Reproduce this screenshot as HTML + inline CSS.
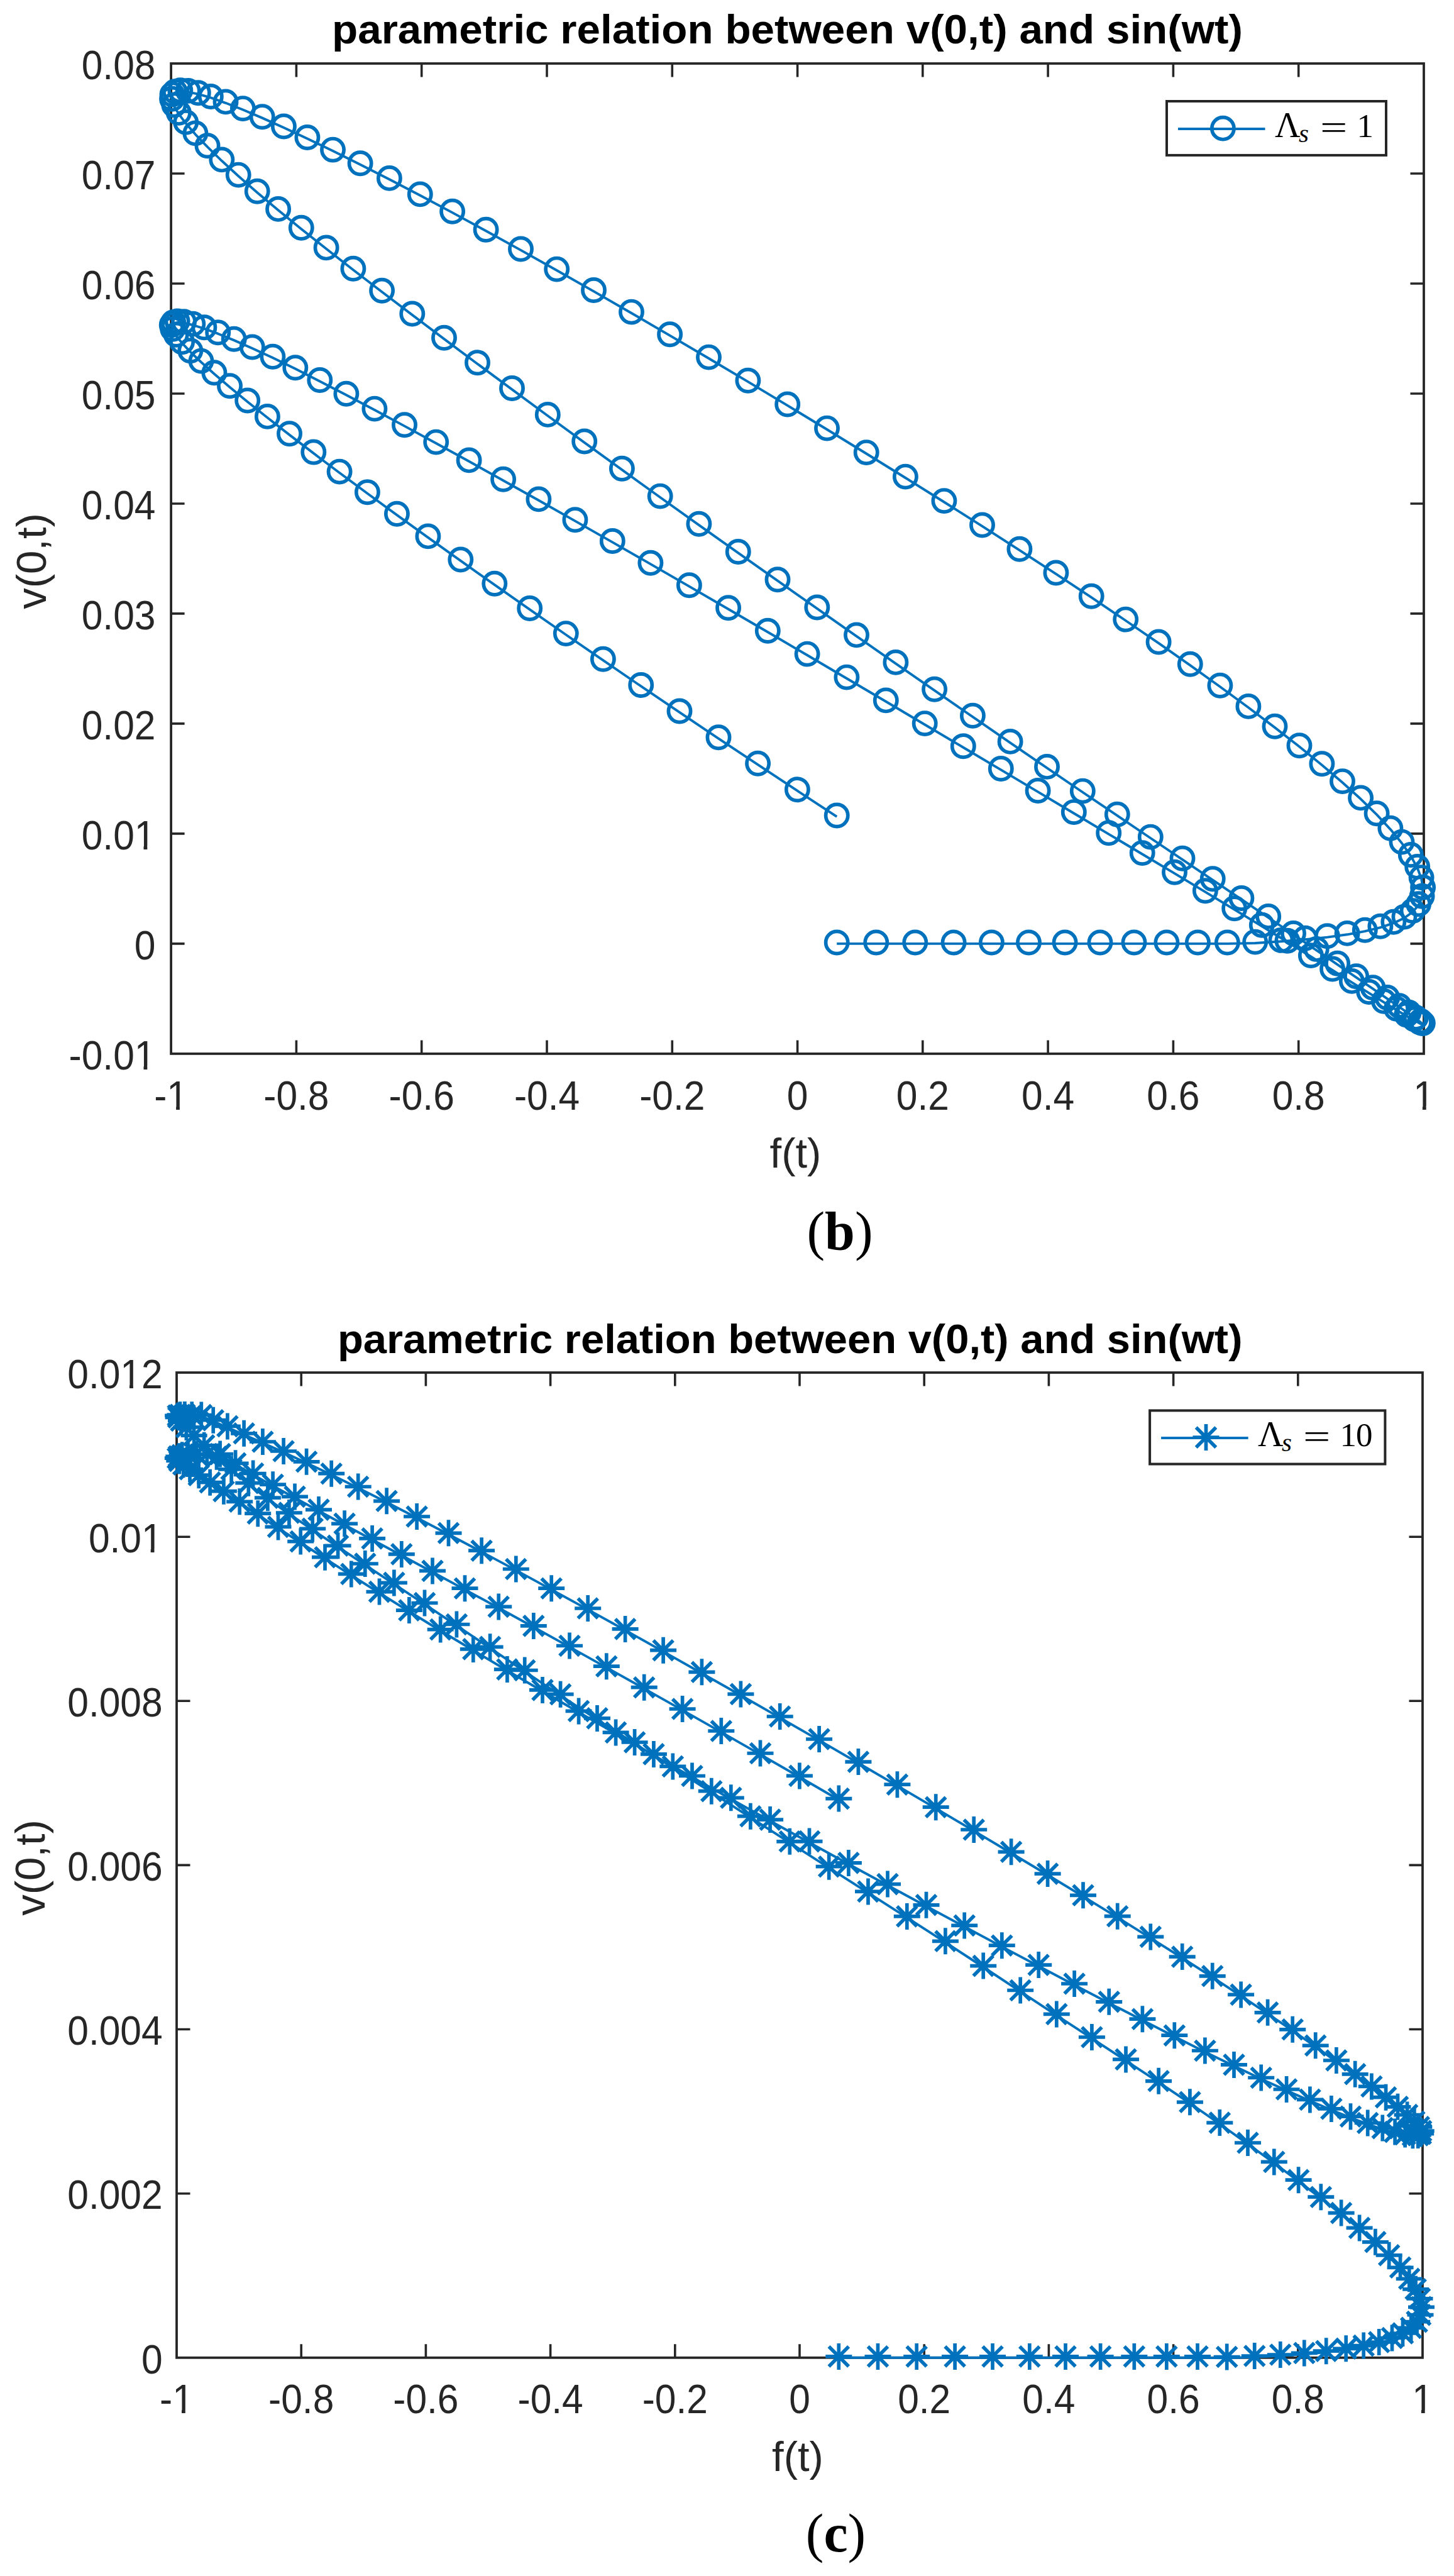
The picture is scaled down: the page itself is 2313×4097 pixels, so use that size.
<!DOCTYPE html><html><head><meta charset="utf-8"><title>parametric relation</title><style>html,body{margin:0;padding:0;background:#fff}svg{display:block}</style></head><body>
<svg width="2313" height="4097" viewBox="0 0 2313 4097">
<rect width="2313" height="4097" fill="#fff"/>
<rect x="272.1" y="101" width="1992.9" height="1574.9" fill="none" stroke="#262626" stroke-width="3.8"/>
<path d="M471.4 1675.9v-21.5M471.4 101v21.5M670.7 1675.9v-21.5M670.7 101v21.5M870 1675.9v-21.5M870 101v21.5M1069.3 1675.9v-21.5M1069.3 101v21.5M1268.6 1675.9v-21.5M1268.6 101v21.5M1467.8 1675.9v-21.5M1467.8 101v21.5M1667.1 1675.9v-21.5M1667.1 101v21.5M1866.4 1675.9v-21.5M1866.4 101v21.5M2065.7 1675.9v-21.5M2065.7 101v21.5M272.1 1500.9h21.5M2265 1500.9h-21.5M272.1 1325.9h21.5M2265 1325.9h-21.5M272.1 1150.9h21.5M2265 1150.9h-21.5M272.1 975.9h21.5M2265 975.9h-21.5M272.1 801h21.5M2265 801h-21.5M272.1 626h21.5M2265 626h-21.5M272.1 451h21.5M2265 451h-21.5M272.1 276h21.5M2265 276h-21.5" stroke="#262626" stroke-width="3.6" fill="none"/>
<g style="font-family:'Liberation Sans',Arial,Helvetica,sans-serif;font-size:64px" fill="#262626">
<text transform="translate(272.1 1764.5) scale(.945 1)" text-anchor="middle">-1</text>
<text transform="translate(471.4 1764.5) scale(.945 1)" text-anchor="middle">-0.8</text>
<text transform="translate(670.7 1764.5) scale(.945 1)" text-anchor="middle">-0.6</text>
<text transform="translate(870 1764.5) scale(.945 1)" text-anchor="middle">-0.4</text>
<text transform="translate(1069.3 1764.5) scale(.945 1)" text-anchor="middle">-0.2</text>
<text transform="translate(1268.6 1764.5) scale(.945 1)" text-anchor="middle">0</text>
<text transform="translate(1467.8 1764.5) scale(.945 1)" text-anchor="middle">0.2</text>
<text transform="translate(1667.1 1764.5) scale(.945 1)" text-anchor="middle">0.4</text>
<text transform="translate(1866.4 1764.5) scale(.945 1)" text-anchor="middle">0.6</text>
<text transform="translate(2065.7 1764.5) scale(.945 1)" text-anchor="middle">0.8</text>
<text transform="translate(2265 1764.5) scale(.945 1)" text-anchor="middle">1</text>
<text transform="translate(247.4 1700.6) scale(.945 1)" text-anchor="end">-0.01</text>
<text transform="translate(247.4 1525.6) scale(.945 1)" text-anchor="end">0</text>
<text transform="translate(247.4 1350.6) scale(.945 1)" text-anchor="end">0.01</text>
<text transform="translate(247.4 1175.6) scale(.945 1)" text-anchor="end">0.02</text>
<text transform="translate(247.4 1000.6) scale(.945 1)" text-anchor="end">0.03</text>
<text transform="translate(247.4 825.7) scale(.945 1)" text-anchor="end">0.04</text>
<text transform="translate(247.4 650.7) scale(.945 1)" text-anchor="end">0.05</text>
<text transform="translate(247.4 475.7) scale(.945 1)" text-anchor="end">0.06</text>
<text transform="translate(247.4 300.7) scale(.945 1)" text-anchor="end">0.07</text>
<text transform="translate(247.4 125.7) scale(.945 1)" text-anchor="end">0.08</text>
</g>
<path d="M268.9 1759.1h11.2v7h-11.2zM285.9 1759.1h11.5v7h-11.5z" fill="#fff"/>
<path d="M2251.7 1759.1h11.2v7h-11.2zM2268.7 1759.1h11.5v7h-11.5z" fill="#fff"/>
<path d="M217.3 1695.2h11.2v7h-11.2zM234.3 1695.2h11.5v7h-11.5z" fill="#fff"/>
<path d="M217.3 1345.2h11.2v7h-11.2zM234.3 1345.2h11.5v7h-11.5z" fill="#fff"/>
<text x="1252.5" y="68.8" text-anchor="middle" textLength="1449" lengthAdjust="spacingAndGlyphs" style="font-family:'Liberation Sans',Arial,Helvetica,sans-serif;font-size:65.5px;font-weight:bold" fill="#000">parametric relation between v(0,t) and sin(wt)</text>
<text x="1265.5" y="1857" text-anchor="middle" style="font-family:'Liberation Sans',Arial,Helvetica,sans-serif;font-size:67px" fill="#262626">f(t)</text>
<text transform="translate(73 892.5) rotate(-90)" text-anchor="middle" style="font-family:'Liberation Sans',Arial,Helvetica,sans-serif;font-size:67px" fill="#262626">v(0,t)</text>
<polyline points="1331.2,1500.9 1393.8,1500.9 1455.8,1500.9 1517.1,1500.9 1577.4,1500.9 1636.5,1500.9 1694.1,1500.9 1750,1500.9 1804,1500.9 1855.9,1500.9 1905.4,1500.9 1952.4,1500.9 1996.7,1500 2038,1497.3 2076.3,1494.2 2111.4,1490.6 2143.1,1486.3 2171.3,1481.2 2195.9,1475.2 2216.8,1468.2 2234,1460 2247.2,1450.5 2256.6,1439.6 2262.1,1427.2 2263.6,1413.2 2261.1,1397.5 2254.7,1380.3 2244.3,1361.4 2230,1341 2211.9,1319.1 2190.1,1295.7 2164.6,1270.8 2135.5,1244.5 2102.9,1216.7 2067,1187.6 2028,1157.1 1985.9,1125.3 1940.9,1092.2 1893.3,1058.1 1843.1,1022.9 1790.7,987 1736.2,950.2 1679.9,912.9 1621.9,875.1 1562.5,836.9 1501.9,798.5 1440.4,760 1378.2,721.5 1315.5,683 1252.7,644.9 1189.9,607.2 1127.5,570 1065.6,533.6 1004.5,498 944.5,463.4 885.7,430 828.5,397.9 773.1,367.2 719.6,338.1 668.3,310.8 619.4,285.3 573.1,261.7 529.5,240 488.9,220.4 451.4,202.9 417.2,187.6 386.4,174.5 359,163.8 335.3,155.4 315.3,149.6 299.2,146.3 286.8,145.6 278.4,147.5 274,152 273.5,159.2 276.9,168.9 284.4,181.3 295.7,196.3 310.9,213.8 330,233.7 352.8,255.8 379.2,280 409.2,306.2 442.6,334.3 479.3,364.2 519.1,395.8 561.9,429.2 607.6,464.2 655.8,500.9 706.5,539.1 759.5,578.7 814.5,619.4 871.3,661.3 929.7,703.9 989.4,747.2 1050.2,791 1111.9,835.1 1174.3,879.4 1237,923.7 1299.8,967.9 1362.5,1011.8 1424.9,1055.3 1486.6,1098.1 1547.4,1140.2 1607.1,1181.3 1665.5,1221.3 1722.3,1260 1777.3,1297.2 1830.3,1333 1881,1367.1 1929.2,1399.6 1974.9,1430.4 2017.7,1459.3 2057.5,1486.3 2094.2,1511.3 2127.6,1534.1 2157.6,1554.6 2184,1572.7 2206.8,1588.4 2225.9,1601.5 2241.1,1612.2 2252.4,1620.3 2259.9,1625.9 2263.3,1629 2262.8,1629.5 2258.4,1627.6 2250,1623 2237.6,1616 2221.5,1606.3 2201.5,1594.1 2177.8,1579.4 2150.4,1562.3 2119.6,1542.9 2085.4,1521.5 2047.9,1498.2 2007.3,1473.2 1963.7,1446.6 1917.4,1418.6 1868.5,1389.2 1817.2,1358.5 1763.7,1326.6 1708.3,1293.5 1651.1,1259.4 1592.3,1224.4 1532.3,1188.7 1471.2,1152.5 1409.3,1115.8 1346.9,1079 1284.1,1042 1221.3,1005.2 1158.6,968.7 1096.4,932.6 1034.9,897.1 974.3,862.4 914.9,828.6 856.9,795.8 800.6,764.2 746.1,733.8 693.7,705 643.5,677.6 595.9,652 550.9,628.2 508.8,606.4 469.8,586.6 433.9,569.1 401.3,553.9 372.2,541.1 346.7,530.7 324.9,522.6 306.8,517 292.5,513.7 282.1,512.9 275.7,514.5 273.2,518.6 274.7,525.2 280.2,534.2 289.6,545.6 302.8,559.6 320,576 340.9,594.7 365.5,615.7 393.7,638.9 425.4,664.3 460.5,691.6 498.8,720.9 540.1,752 584.4,784.7 631.4,819.1 680.9,854.8 732.8,891.9 786.8,930.2 842.7,969.4 900.3,1009.5 959.4,1050.2 1019.7,1091.4 1081,1132.9 1143,1174.6 1205.6,1216.2 1268.4,1257.7 1331.2,1298.9" fill="none" stroke="#0072BD" stroke-width="3.9" stroke-linejoin="round"/>
<g fill="none" stroke="#0072BD" stroke-width="5.7">
<circle cx="1331.2" cy="1499" r="17.6"/>
<circle cx="1393.8" cy="1499" r="17.6"/>
<circle cx="1455.8" cy="1499" r="17.6"/>
<circle cx="1517.1" cy="1499" r="17.6"/>
<circle cx="1577.4" cy="1499" r="17.6"/>
<circle cx="1636.5" cy="1499" r="17.6"/>
<circle cx="1694.1" cy="1499" r="17.6"/>
<circle cx="1750" cy="1499" r="17.6"/>
<circle cx="1804" cy="1499" r="17.6"/>
<circle cx="1855.9" cy="1499" r="17.6"/>
<circle cx="1905.4" cy="1499" r="17.6"/>
<circle cx="1952.4" cy="1499" r="17.6"/>
<circle cx="1996.7" cy="1498.1" r="17.6"/>
<circle cx="2038" cy="1495.4" r="17.6"/>
<circle cx="2076.3" cy="1492.3" r="17.6"/>
<circle cx="2111.4" cy="1488.7" r="17.6"/>
<circle cx="2143.1" cy="1484.4" r="17.6"/>
<circle cx="2171.3" cy="1479.3" r="17.6"/>
<circle cx="2195.9" cy="1473.3" r="17.6"/>
<circle cx="2216.8" cy="1466.3" r="17.6"/>
<circle cx="2234" cy="1458.1" r="17.6"/>
<circle cx="2247.2" cy="1448.6" r="17.6"/>
<circle cx="2256.6" cy="1437.7" r="17.6"/>
<circle cx="2262.1" cy="1425.3" r="17.6"/>
<circle cx="2263.6" cy="1411.3" r="17.6"/>
<circle cx="2261.1" cy="1395.6" r="17.6"/>
<circle cx="2254.7" cy="1378.4" r="17.6"/>
<circle cx="2244.3" cy="1359.5" r="17.6"/>
<circle cx="2230" cy="1339.1" r="17.6"/>
<circle cx="2211.9" cy="1317.2" r="17.6"/>
<circle cx="2190.1" cy="1293.8" r="17.6"/>
<circle cx="2164.6" cy="1268.9" r="17.6"/>
<circle cx="2135.5" cy="1242.6" r="17.6"/>
<circle cx="2102.9" cy="1214.8" r="17.6"/>
<circle cx="2067" cy="1185.7" r="17.6"/>
<circle cx="2028" cy="1155.2" r="17.6"/>
<circle cx="1985.9" cy="1123.4" r="17.6"/>
<circle cx="1940.9" cy="1090.3" r="17.6"/>
<circle cx="1893.3" cy="1056.2" r="17.6"/>
<circle cx="1843.1" cy="1021" r="17.6"/>
<circle cx="1790.7" cy="985.1" r="17.6"/>
<circle cx="1736.2" cy="948.3" r="17.6"/>
<circle cx="1679.9" cy="911" r="17.6"/>
<circle cx="1621.9" cy="873.2" r="17.6"/>
<circle cx="1562.5" cy="835" r="17.6"/>
<circle cx="1501.9" cy="796.6" r="17.6"/>
<circle cx="1440.4" cy="758.1" r="17.6"/>
<circle cx="1378.2" cy="719.6" r="17.6"/>
<circle cx="1315.5" cy="681.1" r="17.6"/>
<circle cx="1252.7" cy="643" r="17.6"/>
<circle cx="1189.9" cy="605.3" r="17.6"/>
<circle cx="1127.5" cy="568.1" r="17.6"/>
<circle cx="1065.6" cy="531.7" r="17.6"/>
<circle cx="1004.5" cy="496.1" r="17.6"/>
<circle cx="944.5" cy="461.5" r="17.6"/>
<circle cx="885.7" cy="428.1" r="17.6"/>
<circle cx="828.5" cy="396" r="17.6"/>
<circle cx="773.1" cy="365.3" r="17.6"/>
<circle cx="719.6" cy="336.2" r="17.6"/>
<circle cx="668.3" cy="308.9" r="17.6"/>
<circle cx="619.4" cy="283.4" r="17.6"/>
<circle cx="573.1" cy="259.8" r="17.6"/>
<circle cx="529.5" cy="238.1" r="17.6"/>
<circle cx="488.9" cy="218.5" r="17.6"/>
<circle cx="451.4" cy="201" r="17.6"/>
<circle cx="417.2" cy="185.7" r="17.6"/>
<circle cx="386.4" cy="172.6" r="17.6"/>
<circle cx="359" cy="161.9" r="17.6"/>
<circle cx="335.3" cy="153.5" r="17.6"/>
<circle cx="315.3" cy="147.7" r="17.6"/>
<circle cx="299.2" cy="144.4" r="17.6"/>
<circle cx="286.8" cy="143.7" r="17.6"/>
<circle cx="278.4" cy="145.6" r="17.6"/>
<circle cx="274" cy="150.1" r="17.6"/>
<circle cx="273.5" cy="157.3" r="17.6"/>
<circle cx="276.9" cy="167" r="17.6"/>
<circle cx="284.4" cy="179.4" r="17.6"/>
<circle cx="295.7" cy="194.4" r="17.6"/>
<circle cx="310.9" cy="211.9" r="17.6"/>
<circle cx="330" cy="231.8" r="17.6"/>
<circle cx="352.8" cy="253.9" r="17.6"/>
<circle cx="379.2" cy="278.1" r="17.6"/>
<circle cx="409.2" cy="304.3" r="17.6"/>
<circle cx="442.6" cy="332.4" r="17.6"/>
<circle cx="479.3" cy="362.3" r="17.6"/>
<circle cx="519.1" cy="393.9" r="17.6"/>
<circle cx="561.9" cy="427.3" r="17.6"/>
<circle cx="607.6" cy="462.3" r="17.6"/>
<circle cx="655.8" cy="499" r="17.6"/>
<circle cx="706.5" cy="537.2" r="17.6"/>
<circle cx="759.5" cy="576.8" r="17.6"/>
<circle cx="814.5" cy="617.5" r="17.6"/>
<circle cx="871.3" cy="659.4" r="17.6"/>
<circle cx="929.7" cy="702" r="17.6"/>
<circle cx="989.4" cy="745.3" r="17.6"/>
<circle cx="1050.2" cy="789.1" r="17.6"/>
<circle cx="1111.9" cy="833.2" r="17.6"/>
<circle cx="1174.3" cy="877.5" r="17.6"/>
<circle cx="1237" cy="921.8" r="17.6"/>
<circle cx="1299.8" cy="966" r="17.6"/>
<circle cx="1362.5" cy="1009.9" r="17.6"/>
<circle cx="1424.9" cy="1053.4" r="17.6"/>
<circle cx="1486.6" cy="1096.2" r="17.6"/>
<circle cx="1547.4" cy="1138.3" r="17.6"/>
<circle cx="1607.1" cy="1179.4" r="17.6"/>
<circle cx="1665.5" cy="1219.4" r="17.6"/>
<circle cx="1722.3" cy="1258.1" r="17.6"/>
<circle cx="1777.3" cy="1295.3" r="17.6"/>
<circle cx="1830.3" cy="1331.1" r="17.6"/>
<circle cx="1881" cy="1365.2" r="17.6"/>
<circle cx="1929.2" cy="1397.7" r="17.6"/>
<circle cx="1974.9" cy="1428.5" r="17.6"/>
<circle cx="2017.7" cy="1457.4" r="17.6"/>
<circle cx="2057.5" cy="1484.4" r="17.6"/>
<circle cx="2094.2" cy="1509.4" r="17.6"/>
<circle cx="2127.6" cy="1532.2" r="17.6"/>
<circle cx="2157.6" cy="1552.7" r="17.6"/>
<circle cx="2184" cy="1570.8" r="17.6"/>
<circle cx="2206.8" cy="1586.5" r="17.6"/>
<circle cx="2225.9" cy="1599.6" r="17.6"/>
<circle cx="2241.1" cy="1610.3" r="17.6"/>
<circle cx="2252.4" cy="1618.4" r="17.6"/>
<circle cx="2259.9" cy="1624" r="17.6"/>
<circle cx="2263.3" cy="1627.1" r="17.6"/>
<circle cx="2262.8" cy="1627.6" r="17.6"/>
<circle cx="2258.4" cy="1625.7" r="17.6"/>
<circle cx="2250" cy="1621.1" r="17.6"/>
<circle cx="2237.6" cy="1614.1" r="17.6"/>
<circle cx="2221.5" cy="1604.4" r="17.6"/>
<circle cx="2201.5" cy="1592.2" r="17.6"/>
<circle cx="2177.8" cy="1577.5" r="17.6"/>
<circle cx="2150.4" cy="1560.4" r="17.6"/>
<circle cx="2119.6" cy="1541" r="17.6"/>
<circle cx="2085.4" cy="1519.6" r="17.6"/>
<circle cx="2047.9" cy="1496.3" r="17.6"/>
<circle cx="2007.3" cy="1471.3" r="17.6"/>
<circle cx="1963.7" cy="1444.7" r="17.6"/>
<circle cx="1917.4" cy="1416.7" r="17.6"/>
<circle cx="1868.5" cy="1387.3" r="17.6"/>
<circle cx="1817.2" cy="1356.6" r="17.6"/>
<circle cx="1763.7" cy="1324.7" r="17.6"/>
<circle cx="1708.3" cy="1291.6" r="17.6"/>
<circle cx="1651.1" cy="1257.5" r="17.6"/>
<circle cx="1592.3" cy="1222.5" r="17.6"/>
<circle cx="1532.3" cy="1186.8" r="17.6"/>
<circle cx="1471.2" cy="1150.6" r="17.6"/>
<circle cx="1409.3" cy="1113.9" r="17.6"/>
<circle cx="1346.9" cy="1077.1" r="17.6"/>
<circle cx="1284.1" cy="1040.1" r="17.6"/>
<circle cx="1221.3" cy="1003.3" r="17.6"/>
<circle cx="1158.6" cy="966.8" r="17.6"/>
<circle cx="1096.4" cy="930.7" r="17.6"/>
<circle cx="1034.9" cy="895.2" r="17.6"/>
<circle cx="974.3" cy="860.5" r="17.6"/>
<circle cx="914.9" cy="826.7" r="17.6"/>
<circle cx="856.9" cy="793.9" r="17.6"/>
<circle cx="800.6" cy="762.3" r="17.6"/>
<circle cx="746.1" cy="731.9" r="17.6"/>
<circle cx="693.7" cy="703.1" r="17.6"/>
<circle cx="643.5" cy="675.7" r="17.6"/>
<circle cx="595.9" cy="650.1" r="17.6"/>
<circle cx="550.9" cy="626.3" r="17.6"/>
<circle cx="508.8" cy="604.5" r="17.6"/>
<circle cx="469.8" cy="584.7" r="17.6"/>
<circle cx="433.9" cy="567.2" r="17.6"/>
<circle cx="401.3" cy="552" r="17.6"/>
<circle cx="372.2" cy="539.2" r="17.6"/>
<circle cx="346.7" cy="528.8" r="17.6"/>
<circle cx="324.9" cy="520.7" r="17.6"/>
<circle cx="306.8" cy="515.1" r="17.6"/>
<circle cx="292.5" cy="511.8" r="17.6"/>
<circle cx="282.1" cy="511" r="17.6"/>
<circle cx="275.7" cy="512.6" r="17.6"/>
<circle cx="273.2" cy="516.7" r="17.6"/>
<circle cx="274.7" cy="523.3" r="17.6"/>
<circle cx="280.2" cy="532.3" r="17.6"/>
<circle cx="289.6" cy="543.7" r="17.6"/>
<circle cx="302.8" cy="557.7" r="17.6"/>
<circle cx="320" cy="574.1" r="17.6"/>
<circle cx="340.9" cy="592.8" r="17.6"/>
<circle cx="365.5" cy="613.8" r="17.6"/>
<circle cx="393.7" cy="637" r="17.6"/>
<circle cx="425.4" cy="662.4" r="17.6"/>
<circle cx="460.5" cy="689.7" r="17.6"/>
<circle cx="498.8" cy="719" r="17.6"/>
<circle cx="540.1" cy="750.1" r="17.6"/>
<circle cx="584.4" cy="782.8" r="17.6"/>
<circle cx="631.4" cy="817.2" r="17.6"/>
<circle cx="680.9" cy="852.9" r="17.6"/>
<circle cx="732.8" cy="890" r="17.6"/>
<circle cx="786.8" cy="928.3" r="17.6"/>
<circle cx="842.7" cy="967.5" r="17.6"/>
<circle cx="900.3" cy="1007.6" r="17.6"/>
<circle cx="959.4" cy="1048.3" r="17.6"/>
<circle cx="1019.7" cy="1089.5" r="17.6"/>
<circle cx="1081" cy="1131" r="17.6"/>
<circle cx="1143" cy="1172.7" r="17.6"/>
<circle cx="1205.6" cy="1214.3" r="17.6"/>
<circle cx="1268.4" cy="1255.8" r="17.6"/>
<circle cx="1331.2" cy="1297" r="17.6"/>
</g>
<rect x="1856.0" y="161.0" width="349.0" height="85.9" fill="#fff" stroke="#262626" stroke-width="4.0"/>
<path d="M1874 204.95H2012.5" stroke="#0072BD" stroke-width="4"/>
<circle cx="1945.4" cy="204.14999999999998" r="17.6" fill="none" stroke="#0072BD" stroke-width="5.7"/>
<g style="font-family:'Liberation Serif','Times New Roman',serif" fill="#000">
<text x="2028" y="218.04999999999998" style="font-size:56px">Λ</text>
<text x="2066" y="226.35" style="font-size:41px;font-style:italic">s</text>
<text transform="translate(2121.7 220.54999999999998) scale(1.4 1)" text-anchor="middle" style="font-size:55px">=</text>
<text x="2158.5" y="218.04999999999998" style="font-size:53px" letter-spacing="-1">1</text>
</g>
<text x="1336" y="1987" text-anchor="middle" style="font-family:'Liberation Serif','Times New Roman',serif;font-size:86px" fill="#000">(<tspan style="font-weight:bold">b</tspan>)</text>
<rect x="281" y="2183" width="1982" height="1566.8" fill="none" stroke="#262626" stroke-width="3.8"/>
<path d="M479.2 3749.8v-21.5M479.2 2183v21.5M677.4 3749.8v-21.5M677.4 2183v21.5M875.6 3749.8v-21.5M875.6 2183v21.5M1073.8 3749.8v-21.5M1073.8 2183v21.5M1272 3749.8v-21.5M1272 2183v21.5M1470.2 3749.8v-21.5M1470.2 2183v21.5M1668.4 3749.8v-21.5M1668.4 2183v21.5M1866.6 3749.8v-21.5M1866.6 2183v21.5M2064.8 3749.8v-21.5M2064.8 2183v21.5M281 3488.7h21.5M2263 3488.7h-21.5M281 3227.5h21.5M2263 3227.5h-21.5M281 2966.4h21.5M2263 2966.4h-21.5M281 2705.3h21.5M2263 2705.3h-21.5M281 2444.2h21.5M2263 2444.2h-21.5" stroke="#262626" stroke-width="3.6" fill="none"/>
<g style="font-family:'Liberation Sans',Arial,Helvetica,sans-serif;font-size:64px" fill="#262626">
<text transform="translate(281 3838.4) scale(.945 1)" text-anchor="middle">-1</text>
<text transform="translate(479.2 3838.4) scale(.945 1)" text-anchor="middle">-0.8</text>
<text transform="translate(677.4 3838.4) scale(.945 1)" text-anchor="middle">-0.6</text>
<text transform="translate(875.6 3838.4) scale(.945 1)" text-anchor="middle">-0.4</text>
<text transform="translate(1073.8 3838.4) scale(.945 1)" text-anchor="middle">-0.2</text>
<text transform="translate(1272 3838.4) scale(.945 1)" text-anchor="middle">0</text>
<text transform="translate(1470.2 3838.4) scale(.945 1)" text-anchor="middle">0.2</text>
<text transform="translate(1668.4 3838.4) scale(.945 1)" text-anchor="middle">0.4</text>
<text transform="translate(1866.6 3838.4) scale(.945 1)" text-anchor="middle">0.6</text>
<text transform="translate(2064.8 3838.4) scale(.945 1)" text-anchor="middle">0.8</text>
<text transform="translate(2263 3838.4) scale(.945 1)" text-anchor="middle">1</text>
<text transform="translate(258.6 3774.5) scale(.945 1)" text-anchor="end">0</text>
<text transform="translate(258.6 3513.4) scale(.945 1)" text-anchor="end">0.002</text>
<text transform="translate(258.6 3252.2) scale(.945 1)" text-anchor="end">0.004</text>
<text transform="translate(258.6 2991.1) scale(.945 1)" text-anchor="end">0.006</text>
<text transform="translate(258.6 2730) scale(.945 1)" text-anchor="end">0.008</text>
<text transform="translate(258.6 2468.8) scale(.945 1)" text-anchor="end">0.01</text>
<text transform="translate(258.6 2207.7) scale(.945 1)" text-anchor="end">0.012</text>
</g>
<path d="M277.8 3833h11.2v7h-11.2zM294.8 3833h11.5v7h-11.5z" fill="#fff"/>
<path d="M2249.7 3833h11.2v7h-11.2zM2266.7 3833h11.5v7h-11.5z" fill="#fff"/>
<path d="M228.5 2463.4h11.2v7h-11.2zM245.5 2463.4h11.5v7h-11.5z" fill="#fff"/>
<path d="M194.8 2202.3h11.2v7h-11.2zM211.9 2202.3h11.5v7h-11.5z" fill="#fff"/>
<text x="1256.7" y="2151.5" text-anchor="middle" textLength="1439.5" lengthAdjust="spacingAndGlyphs" style="font-family:'Liberation Sans',Arial,Helvetica,sans-serif;font-size:65.5px;font-weight:bold" fill="#000">parametric relation between v(0,t) and sin(wt)</text>
<text x="1269" y="3930" text-anchor="middle" style="font-family:'Liberation Sans',Arial,Helvetica,sans-serif;font-size:67px" fill="#262626">f(t)</text>
<text transform="translate(70.5 2970.4) rotate(-90)" text-anchor="middle" style="font-family:'Liberation Sans',Arial,Helvetica,sans-serif;font-size:67px" fill="#262626">v(0,t)</text>
<polyline points="1334.3,3749.8 1396.5,3749.8 1458.2,3749.8 1519.1,3749.8 1579,3749.8 1637.8,3749.8 1695,3749.8 1750.6,3749.8 1804.3,3749.8 1855.8,3749.8 1905,3749.8 1951.7,3750.4 1995.7,3748.9 2036.8,3746.9 2074.8,3744.3 2109.7,3741.1 2141.2,3737.2 2169.2,3732.5 2193.7,3726.9 2214.5,3720.4 2231.5,3712.9 2244.7,3704.3 2254.1,3694.5 2259.5,3683.6 2261,3671.3 2258.5,3657.7 2252.1,3642.7 2241.8,3626.2 2227.6,3608.2 2209.7,3588.7 2187.9,3567.7 2162.6,3545.3 2133.6,3521.5 2101.3,3496.1 2065.6,3469.1 2026.8,3440.3 1985,3409.9 1940.3,3378 1892.9,3345.2 1843.1,3311.7 1791,3277.3 1736.9,3241.9 1680.8,3205.3 1623.2,3167.4 1564.2,3128.5 1503.9,3089.2 1442.8,3049.8 1381,3010.3 1318.7,2970.6 1256.3,2930.7 1193.9,2890.6 1131.8,2850.6 1070.3,2811.3 1009.6,2772.9 950,2734.8 891.6,2696.6 834.7,2658.4 779.6,2621.2 726.4,2585.4 675.5,2551.4 626.9,2519.3 580.8,2488.9 537.6,2460.2 497.2,2433.2 459.9,2407.9 425.9,2384.1 395.3,2360.6 368.1,2338.7 344.5,2318.6 324.7,2300.7 308.6,2285 296.4,2271.8 288,2261.4 283.6,2256.2 283.1,2253.3 286.5,2252.1 293.9,2251.9 305.2,2252.2 320.3,2252.4 339.2,2260.6 361.9,2270.3 388.1,2281.7 417.9,2294.9 451.1,2309.9 487.6,2326.7 527.2,2345.6 569.7,2366.4 615.1,2389.2 663.1,2413.9 713.5,2440.2 766.1,2468.1 820.8,2497.4 877.2,2528.1 935.2,2559.9 994.6,2592.8 1055.1,2626.6 1116.4,2661.2 1178.4,2696.3 1240.7,2731.9 1303.1,2767.9 1365.4,2804 1427.4,2840.1 1488.7,2876.1 1549.2,2911.9 1608.6,2947.2 1666.6,2982 1723,3016.2 1777.7,3049.6 1830.3,3082.3 1880.7,3114 1928.7,3144.7 1974.1,3174.3 2016.6,3202.7 2056.2,3229.7 2092.7,3255.2 2125.9,3278.9 2155.7,3300.7 2181.9,3320.3 2204.6,3337.6 2223.5,3352.7 2238.6,3365.5 2249.9,3376.1 2257.3,3384.7 2260.7,3391.1 2260.2,3395.5 2255.8,3397.9 2247.4,3398.2 2235.2,3396.4 2219.1,3392.5 2199.3,3386.5 2175.7,3378.4 2148.5,3368.1 2117.9,3355.8 2083.9,3341.3 2046.6,3324.9 2006.2,3306.4 1963,3285.8 1916.9,3263.4 1868.3,3239.1 1817.4,3213.1 1764.2,3185.7 1709.1,3156.9 1652.2,3127 1593.8,3096.1 1534.2,3064.3 1473.5,3031.7 1412,2998.5 1349.9,2964.8 1287.5,2930.5 1225.1,2896 1162.8,2861.2 1101,2826.4 1039.9,2791.8 979.6,2757.3 920.6,2723.3 863,2689.8 806.9,2657 752.8,2624.8 700.7,2593.5 650.9,2563 603.5,2533.5 558.8,2505.3 517,2478.6 478.2,2453.5 442.5,2430.3 410.2,2409.1 381.2,2390.2 355.9,2373.6 334.1,2359.6 316.2,2348.1 302,2338.6 291.7,2331.2 285.3,2325.4 282.8,2321.1 284.3,2318.2 289.7,2316.2 299.1,2315.1 312.3,2314.6 329.3,2314.5 350.1,2314.5 374.6,2329.2 402.6,2345.4 434.1,2363.1 469,2382.3 507,2403 548.1,2425.2 592.1,2448.8 638.8,2473.8 688,2500.3 739.5,2528.1 793.2,2557.3 848.8,2587.8 906,2619.4 964.8,2652.1 1024.7,2685.6 1085.6,2719.9 1147.3,2754.9 1209.5,2790.4 1271.9,2826.3 1334.3,2862.5" fill="none" stroke="#0072BD" stroke-width="3.9" stroke-linejoin="round"/>
<path d="M1313.3 3747.9h42M1334.3 3726.9v42M1318.5 3732.1l31.6 31.6M1318.5 3763.7l31.6 -31.6M1375.5 3747.9h42M1396.5 3726.9v42M1380.7 3732.1l31.6 31.6M1380.7 3763.7l31.6 -31.6M1437.2 3747.9h42M1458.2 3726.9v42M1442.4 3732.1l31.6 31.6M1442.4 3763.7l31.6 -31.6M1498.1 3747.9h42M1519.1 3726.9v42M1503.3 3732.1l31.6 31.6M1503.3 3763.7l31.6 -31.6M1558 3747.9h42M1579 3726.9v42M1563.2 3732.1l31.6 31.6M1563.2 3763.7l31.6 -31.6M1616.8 3747.9h42M1637.8 3726.9v42M1622 3732.1l31.6 31.6M1622 3763.7l31.6 -31.6M1674 3747.9h42M1695 3726.9v42M1679.2 3732.1l31.6 31.6M1679.2 3763.7l31.6 -31.6M1729.6 3747.9h42M1750.6 3726.9v42M1734.8 3732.1l31.6 31.6M1734.8 3763.7l31.6 -31.6M1783.3 3747.9h42M1804.3 3726.9v42M1788.5 3732.1l31.6 31.6M1788.5 3763.7l31.6 -31.6M1834.8 3747.9h42M1855.8 3726.9v42M1840 3732.1l31.6 31.6M1840 3763.7l31.6 -31.6M1884 3747.9h42M1905 3726.9v42M1889.2 3732.1l31.6 31.6M1889.2 3763.7l31.6 -31.6M1930.7 3748.5h42M1951.7 3727.5v42M1935.9 3732.7l31.6 31.6M1935.9 3764.3l31.6 -31.6M1974.7 3747h42M1995.7 3726v42M1979.9 3731.2l31.6 31.6M1979.9 3762.8l31.6 -31.6M2015.8 3745h42M2036.8 3724v42M2021 3729.2l31.6 31.6M2021 3760.8l31.6 -31.6M2053.8 3742.4h42M2074.8 3721.4v42M2059 3726.6l31.6 31.6M2059 3758.2l31.6 -31.6M2088.7 3739.2h42M2109.7 3718.2v42M2093.9 3723.4l31.6 31.6M2093.9 3755l31.6 -31.6M2120.2 3735.3h42M2141.2 3714.3v42M2125.4 3719.5l31.6 31.6M2125.4 3751.1l31.6 -31.6M2148.2 3730.6h42M2169.2 3709.6v42M2153.4 3714.8l31.6 31.6M2153.4 3746.4l31.6 -31.6M2172.7 3725h42M2193.7 3704v42M2177.9 3709.2l31.6 31.6M2177.9 3740.8l31.6 -31.6M2193.5 3718.5h42M2214.5 3697.5v42M2198.7 3702.7l31.6 31.6M2198.7 3734.3l31.6 -31.6M2210.5 3711h42M2231.5 3690v42M2215.7 3695.2l31.6 31.6M2215.7 3726.8l31.6 -31.6M2223.7 3702.4h42M2244.7 3681.4v42M2228.9 3686.6l31.6 31.6M2228.9 3718.2l31.6 -31.6M2233.1 3692.6h42M2254.1 3671.6v42M2238.3 3676.8l31.6 31.6M2238.3 3708.4l31.6 -31.6M2238.5 3681.7h42M2259.5 3660.7v42M2243.7 3665.9l31.6 31.6M2243.7 3697.5l31.6 -31.6M2240 3669.4h42M2261 3648.4v42M2245.2 3653.6l31.6 31.6M2245.2 3685.2l31.6 -31.6M2237.5 3655.8h42M2258.5 3634.8v42M2242.7 3640l31.6 31.6M2242.7 3671.6l31.6 -31.6M2231.1 3640.8h42M2252.1 3619.8v42M2236.3 3625l31.6 31.6M2236.3 3656.6l31.6 -31.6M2220.8 3624.3h42M2241.8 3603.3v42M2226 3608.5l31.6 31.6M2226 3640.1l31.6 -31.6M2206.6 3606.3h42M2227.6 3585.3v42M2211.8 3590.5l31.6 31.6M2211.8 3622.1l31.6 -31.6M2188.7 3586.8h42M2209.7 3565.8v42M2193.9 3571l31.6 31.6M2193.9 3602.6l31.6 -31.6M2166.9 3565.8h42M2187.9 3544.8v42M2172.1 3550l31.6 31.6M2172.1 3581.6l31.6 -31.6M2141.6 3543.4h42M2162.6 3522.4v42M2146.8 3527.6l31.6 31.6M2146.8 3559.2l31.6 -31.6M2112.6 3519.6h42M2133.6 3498.6v42M2117.8 3503.8l31.6 31.6M2117.8 3535.4l31.6 -31.6M2080.3 3494.2h42M2101.3 3473.2v42M2085.5 3478.4l31.6 31.6M2085.5 3510l31.6 -31.6M2044.6 3467.2h42M2065.6 3446.2v42M2049.8 3451.4l31.6 31.6M2049.8 3483l31.6 -31.6M2005.8 3438.4h42M2026.8 3417.4v42M2011 3422.6l31.6 31.6M2011 3454.2l31.6 -31.6M1964 3408h42M1985 3387v42M1969.2 3392.2l31.6 31.6M1969.2 3423.8l31.6 -31.6M1919.3 3376.1h42M1940.3 3355.1v42M1924.5 3360.3l31.6 31.6M1924.5 3391.9l31.6 -31.6M1871.9 3343.3h42M1892.9 3322.3v42M1877.1 3327.5l31.6 31.6M1877.1 3359.1l31.6 -31.6M1822.1 3309.8h42M1843.1 3288.8v42M1827.3 3294l31.6 31.6M1827.3 3325.6l31.6 -31.6M1770 3275.4h42M1791 3254.4v42M1775.2 3259.6l31.6 31.6M1775.2 3291.2l31.6 -31.6M1715.9 3240h42M1736.9 3219v42M1721.1 3224.2l31.6 31.6M1721.1 3255.8l31.6 -31.6M1659.8 3203.4h42M1680.8 3182.4v42M1665 3187.6l31.6 31.6M1665 3219.2l31.6 -31.6M1602.2 3165.5h42M1623.2 3144.5v42M1607.4 3149.7l31.6 31.6M1607.4 3181.3l31.6 -31.6M1543.2 3126.6h42M1564.2 3105.6v42M1548.4 3110.8l31.6 31.6M1548.4 3142.4l31.6 -31.6M1482.9 3087.3h42M1503.9 3066.3v42M1488.1 3071.5l31.6 31.6M1488.1 3103.1l31.6 -31.6M1421.8 3047.9h42M1442.8 3026.9v42M1427 3032.1l31.6 31.6M1427 3063.7l31.6 -31.6M1360 3008.4h42M1381 2987.4v42M1365.2 2992.6l31.6 31.6M1365.2 3024.2l31.6 -31.6M1297.7 2968.7h42M1318.7 2947.7v42M1302.9 2952.9l31.6 31.6M1302.9 2984.5l31.6 -31.6M1235.3 2928.8h42M1256.3 2907.8v42M1240.5 2913l31.6 31.6M1240.5 2944.6l31.6 -31.6M1172.9 2888.7h42M1193.9 2867.7v42M1178.1 2872.9l31.6 31.6M1178.1 2904.5l31.6 -31.6M1110.8 2848.7h42M1131.8 2827.7v42M1116 2832.9l31.6 31.6M1116 2864.5l31.6 -31.6M1049.3 2809.4h42M1070.3 2788.4v42M1054.5 2793.6l31.6 31.6M1054.5 2825.2l31.6 -31.6M988.6 2771h42M1009.6 2750v42M993.8 2755.2l31.6 31.6M993.8 2786.8l31.6 -31.6M929 2732.9h42M950 2711.9v42M934.2 2717.1l31.6 31.6M934.2 2748.7l31.6 -31.6M870.6 2694.7h42M891.6 2673.7v42M875.8 2678.9l31.6 31.6M875.8 2710.5l31.6 -31.6M813.7 2656.5h42M834.7 2635.5v42M818.9 2640.7l31.6 31.6M818.9 2672.3l31.6 -31.6M758.6 2619.3h42M779.6 2598.3v42M763.8 2603.5l31.6 31.6M763.8 2635.1l31.6 -31.6M705.4 2583.5h42M726.4 2562.5v42M710.6 2567.7l31.6 31.6M710.6 2599.3l31.6 -31.6M654.5 2549.5h42M675.5 2528.5v42M659.7 2533.7l31.6 31.6M659.7 2565.3l31.6 -31.6M605.9 2517.4h42M626.9 2496.4v42M611.1 2501.6l31.6 31.6M611.1 2533.2l31.6 -31.6M559.8 2487h42M580.8 2466v42M565 2471.2l31.6 31.6M565 2502.8l31.6 -31.6M516.6 2458.3h42M537.6 2437.3v42M521.8 2442.5l31.6 31.6M521.8 2474.1l31.6 -31.6M476.2 2431.3h42M497.2 2410.3v42M481.4 2415.5l31.6 31.6M481.4 2447.1l31.6 -31.6M438.9 2406h42M459.9 2385v42M444.1 2390.2l31.6 31.6M444.1 2421.8l31.6 -31.6M404.9 2382.2h42M425.9 2361.2v42M410.1 2366.4l31.6 31.6M410.1 2398l31.6 -31.6M374.3 2358.7h42M395.3 2337.7v42M379.5 2342.9l31.6 31.6M379.5 2374.5l31.6 -31.6M347.1 2336.8h42M368.1 2315.8v42M352.3 2321l31.6 31.6M352.3 2352.6l31.6 -31.6M323.5 2316.7h42M344.5 2295.7v42M328.7 2300.9l31.6 31.6M328.7 2332.5l31.6 -31.6M303.7 2298.8h42M324.7 2277.8v42M308.9 2283l31.6 31.6M308.9 2314.6l31.6 -31.6M287.6 2283.1h42M308.6 2262.1v42M292.8 2267.3l31.6 31.6M292.8 2298.9l31.6 -31.6M275.4 2269.9h42M296.4 2248.9v42M280.6 2254.1l31.6 31.6M280.6 2285.7l31.6 -31.6M267 2259.5h42M288 2238.5v42M272.2 2243.7l31.6 31.6M272.2 2275.3l31.6 -31.6M262.6 2254.3h42M283.6 2233.3v42M267.8 2238.5l31.6 31.6M267.8 2270.1l31.6 -31.6M262.1 2251.4h42M283.1 2230.4v42M267.3 2235.6l31.6 31.6M267.3 2267.2l31.6 -31.6M265.5 2250.2h42M286.5 2229.2v42M270.7 2234.4l31.6 31.6M270.7 2266l31.6 -31.6M272.9 2250h42M293.9 2229v42M278.1 2234.2l31.6 31.6M278.1 2265.8l31.6 -31.6M284.2 2250.3h42M305.2 2229.3v42M289.4 2234.5l31.6 31.6M289.4 2266.1l31.6 -31.6M299.3 2250.5h42M320.3 2229.5v42M304.5 2234.7l31.6 31.6M304.5 2266.3l31.6 -31.6M318.2 2258.7h42M339.2 2237.7v42M323.4 2242.9l31.6 31.6M323.4 2274.5l31.6 -31.6M340.9 2268.4h42M361.9 2247.4v42M346.1 2252.6l31.6 31.6M346.1 2284.2l31.6 -31.6M367.1 2279.8h42M388.1 2258.8v42M372.3 2264l31.6 31.6M372.3 2295.6l31.6 -31.6M396.9 2293h42M417.9 2272v42M402.1 2277.2l31.6 31.6M402.1 2308.8l31.6 -31.6M430.1 2308h42M451.1 2287v42M435.3 2292.2l31.6 31.6M435.3 2323.8l31.6 -31.6M466.6 2324.8h42M487.6 2303.8v42M471.8 2309l31.6 31.6M471.8 2340.6l31.6 -31.6M506.2 2343.7h42M527.2 2322.7v42M511.4 2327.9l31.6 31.6M511.4 2359.5l31.6 -31.6M548.7 2364.5h42M569.7 2343.5v42M553.9 2348.7l31.6 31.6M553.9 2380.3l31.6 -31.6M594.1 2387.3h42M615.1 2366.3v42M599.3 2371.5l31.6 31.6M599.3 2403.1l31.6 -31.6M642.1 2412h42M663.1 2391v42M647.3 2396.2l31.6 31.6M647.3 2427.8l31.6 -31.6M692.5 2438.3h42M713.5 2417.3v42M697.7 2422.5l31.6 31.6M697.7 2454.1l31.6 -31.6M745.1 2466.2h42M766.1 2445.2v42M750.3 2450.4l31.6 31.6M750.3 2482l31.6 -31.6M799.8 2495.5h42M820.8 2474.5v42M805 2479.7l31.6 31.6M805 2511.3l31.6 -31.6M856.2 2526.2h42M877.2 2505.2v42M861.4 2510.4l31.6 31.6M861.4 2542l31.6 -31.6M914.2 2558h42M935.2 2537v42M919.4 2542.2l31.6 31.6M919.4 2573.8l31.6 -31.6M973.6 2590.9h42M994.6 2569.9v42M978.8 2575.1l31.6 31.6M978.8 2606.7l31.6 -31.6M1034.1 2624.7h42M1055.1 2603.7v42M1039.3 2608.9l31.6 31.6M1039.3 2640.5l31.6 -31.6M1095.4 2659.3h42M1116.4 2638.3v42M1100.6 2643.5l31.6 31.6M1100.6 2675.1l31.6 -31.6M1157.4 2694.4h42M1178.4 2673.4v42M1162.6 2678.6l31.6 31.6M1162.6 2710.2l31.6 -31.6M1219.7 2730h42M1240.7 2709v42M1224.9 2714.2l31.6 31.6M1224.9 2745.8l31.6 -31.6M1282.1 2766h42M1303.1 2745v42M1287.3 2750.2l31.6 31.6M1287.3 2781.8l31.6 -31.6M1344.4 2802.1h42M1365.4 2781.1v42M1349.6 2786.3l31.6 31.6M1349.6 2817.9l31.6 -31.6M1406.4 2838.2h42M1427.4 2817.2v42M1411.6 2822.4l31.6 31.6M1411.6 2854l31.6 -31.6M1467.7 2874.2h42M1488.7 2853.2v42M1472.9 2858.4l31.6 31.6M1472.9 2890l31.6 -31.6M1528.2 2910h42M1549.2 2889v42M1533.4 2894.2l31.6 31.6M1533.4 2925.8l31.6 -31.6M1587.6 2945.3h42M1608.6 2924.3v42M1592.8 2929.5l31.6 31.6M1592.8 2961.1l31.6 -31.6M1645.6 2980.1h42M1666.6 2959.1v42M1650.8 2964.3l31.6 31.6M1650.8 2995.9l31.6 -31.6M1702 3014.3h42M1723 2993.3v42M1707.2 2998.5l31.6 31.6M1707.2 3030.1l31.6 -31.6M1756.7 3047.7h42M1777.7 3026.7v42M1761.9 3031.9l31.6 31.6M1761.9 3063.5l31.6 -31.6M1809.3 3080.4h42M1830.3 3059.4v42M1814.5 3064.6l31.6 31.6M1814.5 3096.2l31.6 -31.6M1859.7 3112.1h42M1880.7 3091.1v42M1864.9 3096.3l31.6 31.6M1864.9 3127.9l31.6 -31.6M1907.7 3142.8h42M1928.7 3121.8v42M1912.9 3127l31.6 31.6M1912.9 3158.6l31.6 -31.6M1953.1 3172.4h42M1974.1 3151.4v42M1958.3 3156.6l31.6 31.6M1958.3 3188.2l31.6 -31.6M1995.6 3200.8h42M2016.6 3179.8v42M2000.8 3185l31.6 31.6M2000.8 3216.6l31.6 -31.6M2035.2 3227.8h42M2056.2 3206.8v42M2040.4 3212l31.6 31.6M2040.4 3243.6l31.6 -31.6M2071.7 3253.3h42M2092.7 3232.3v42M2076.9 3237.5l31.6 31.6M2076.9 3269.1l31.6 -31.6M2104.9 3277h42M2125.9 3256v42M2110.1 3261.2l31.6 31.6M2110.1 3292.8l31.6 -31.6M2134.7 3298.8h42M2155.7 3277.8v42M2139.9 3283l31.6 31.6M2139.9 3314.6l31.6 -31.6M2160.9 3318.4h42M2181.9 3297.4v42M2166.1 3302.6l31.6 31.6M2166.1 3334.2l31.6 -31.6M2183.6 3335.7h42M2204.6 3314.7v42M2188.8 3319.9l31.6 31.6M2188.8 3351.5l31.6 -31.6M2202.5 3350.8h42M2223.5 3329.8v42M2207.7 3335l31.6 31.6M2207.7 3366.6l31.6 -31.6M2217.6 3363.6h42M2238.6 3342.6v42M2222.8 3347.8l31.6 31.6M2222.8 3379.4l31.6 -31.6M2228.9 3374.2h42M2249.9 3353.2v42M2234.1 3358.4l31.6 31.6M2234.1 3390l31.6 -31.6M2236.3 3382.8h42M2257.3 3361.8v42M2241.5 3367l31.6 31.6M2241.5 3398.6l31.6 -31.6M2239.7 3389.2h42M2260.7 3368.2v42M2244.9 3373.4l31.6 31.6M2244.9 3405l31.6 -31.6M2239.2 3393.6h42M2260.2 3372.6v42M2244.4 3377.8l31.6 31.6M2244.4 3409.4l31.6 -31.6M2234.8 3396h42M2255.8 3375v42M2240 3380.2l31.6 31.6M2240 3411.8l31.6 -31.6M2226.4 3396.3h42M2247.4 3375.3v42M2231.6 3380.5l31.6 31.6M2231.6 3412.1l31.6 -31.6M2214.2 3394.5h42M2235.2 3373.5v42M2219.4 3378.7l31.6 31.6M2219.4 3410.3l31.6 -31.6M2198.1 3390.6h42M2219.1 3369.6v42M2203.3 3374.8l31.6 31.6M2203.3 3406.4l31.6 -31.6M2178.3 3384.6h42M2199.3 3363.6v42M2183.5 3368.8l31.6 31.6M2183.5 3400.4l31.6 -31.6M2154.7 3376.5h42M2175.7 3355.5v42M2159.9 3360.7l31.6 31.6M2159.9 3392.3l31.6 -31.6M2127.5 3366.2h42M2148.5 3345.2v42M2132.7 3350.4l31.6 31.6M2132.7 3382l31.6 -31.6M2096.9 3353.9h42M2117.9 3332.9v42M2102.1 3338.1l31.6 31.6M2102.1 3369.7l31.6 -31.6M2062.9 3339.4h42M2083.9 3318.4v42M2068.1 3323.6l31.6 31.6M2068.1 3355.2l31.6 -31.6M2025.6 3323h42M2046.6 3302v42M2030.8 3307.2l31.6 31.6M2030.8 3338.8l31.6 -31.6M1985.2 3304.5h42M2006.2 3283.5v42M1990.4 3288.7l31.6 31.6M1990.4 3320.3l31.6 -31.6M1942 3283.9h42M1963 3262.9v42M1947.2 3268.1l31.6 31.6M1947.2 3299.7l31.6 -31.6M1895.9 3261.5h42M1916.9 3240.5v42M1901.1 3245.7l31.6 31.6M1901.1 3277.3l31.6 -31.6M1847.3 3237.2h42M1868.3 3216.2v42M1852.5 3221.4l31.6 31.6M1852.5 3253l31.6 -31.6M1796.4 3211.2h42M1817.4 3190.2v42M1801.6 3195.4l31.6 31.6M1801.6 3227l31.6 -31.6M1743.2 3183.8h42M1764.2 3162.8v42M1748.4 3168l31.6 31.6M1748.4 3199.6l31.6 -31.6M1688.1 3155h42M1709.1 3134v42M1693.3 3139.2l31.6 31.6M1693.3 3170.8l31.6 -31.6M1631.2 3125.1h42M1652.2 3104.1v42M1636.4 3109.3l31.6 31.6M1636.4 3140.9l31.6 -31.6M1572.8 3094.2h42M1593.8 3073.2v42M1578 3078.4l31.6 31.6M1578 3110l31.6 -31.6M1513.2 3062.4h42M1534.2 3041.4v42M1518.4 3046.6l31.6 31.6M1518.4 3078.2l31.6 -31.6M1452.5 3029.8h42M1473.5 3008.8v42M1457.7 3014l31.6 31.6M1457.7 3045.6l31.6 -31.6M1391 2996.6h42M1412 2975.6v42M1396.2 2980.8l31.6 31.6M1396.2 3012.4l31.6 -31.6M1328.9 2962.9h42M1349.9 2941.9v42M1334.1 2947.1l31.6 31.6M1334.1 2978.7l31.6 -31.6M1266.5 2928.6h42M1287.5 2907.6v42M1271.7 2912.8l31.6 31.6M1271.7 2944.4l31.6 -31.6M1204.1 2894.1h42M1225.1 2873.1v42M1209.3 2878.3l31.6 31.6M1209.3 2909.9l31.6 -31.6M1141.8 2859.3h42M1162.8 2838.3v42M1147 2843.5l31.6 31.6M1147 2875.1l31.6 -31.6M1080 2824.5h42M1101 2803.5v42M1085.2 2808.7l31.6 31.6M1085.2 2840.3l31.6 -31.6M1018.9 2789.9h42M1039.9 2768.9v42M1024.1 2774.1l31.6 31.6M1024.1 2805.7l31.6 -31.6M958.6 2755.4h42M979.6 2734.4v42M963.8 2739.6l31.6 31.6M963.8 2771.2l31.6 -31.6M899.6 2721.4h42M920.6 2700.4v42M904.8 2705.6l31.6 31.6M904.8 2737.2l31.6 -31.6M842 2687.9h42M863 2666.9v42M847.2 2672.1l31.6 31.6M847.2 2703.7l31.6 -31.6M785.9 2655.1h42M806.9 2634.1v42M791.1 2639.3l31.6 31.6M791.1 2670.9l31.6 -31.6M731.8 2622.9h42M752.8 2601.9v42M737 2607.1l31.6 31.6M737 2638.7l31.6 -31.6M679.7 2591.6h42M700.7 2570.6v42M684.9 2575.8l31.6 31.6M684.9 2607.4l31.6 -31.6M629.9 2561.1h42M650.9 2540.1v42M635.1 2545.3l31.6 31.6M635.1 2576.9l31.6 -31.6M582.5 2531.6h42M603.5 2510.6v42M587.7 2515.8l31.6 31.6M587.7 2547.4l31.6 -31.6M537.8 2503.4h42M558.8 2482.4v42M543 2487.6l31.6 31.6M543 2519.2l31.6 -31.6M496 2476.7h42M517 2455.7v42M501.2 2460.9l31.6 31.6M501.2 2492.5l31.6 -31.6M457.2 2451.6h42M478.2 2430.6v42M462.4 2435.8l31.6 31.6M462.4 2467.4l31.6 -31.6M421.5 2428.4h42M442.5 2407.4v42M426.7 2412.6l31.6 31.6M426.7 2444.2l31.6 -31.6M389.2 2407.2h42M410.2 2386.2v42M394.4 2391.4l31.6 31.6M394.4 2423l31.6 -31.6M360.2 2388.3h42M381.2 2367.3v42M365.4 2372.5l31.6 31.6M365.4 2404.1l31.6 -31.6M334.9 2371.7h42M355.9 2350.7v42M340.1 2355.9l31.6 31.6M340.1 2387.5l31.6 -31.6M313.1 2357.7h42M334.1 2336.7v42M318.3 2341.9l31.6 31.6M318.3 2373.5l31.6 -31.6M295.2 2346.2h42M316.2 2325.2v42M300.4 2330.4l31.6 31.6M300.4 2362l31.6 -31.6M281 2336.7h42M302 2315.7v42M286.2 2320.9l31.6 31.6M286.2 2352.5l31.6 -31.6M270.7 2329.3h42M291.7 2308.3v42M275.9 2313.5l31.6 31.6M275.9 2345.1l31.6 -31.6M264.3 2323.5h42M285.3 2302.5v42M269.5 2307.7l31.6 31.6M269.5 2339.3l31.6 -31.6M261.8 2319.2h42M282.8 2298.2v42M267 2303.4l31.6 31.6M267 2335l31.6 -31.6M263.3 2316.3h42M284.3 2295.3v42M268.5 2300.5l31.6 31.6M268.5 2332.1l31.6 -31.6M268.7 2314.3h42M289.7 2293.3v42M273.9 2298.5l31.6 31.6M273.9 2330.1l31.6 -31.6M278.1 2313.2h42M299.1 2292.2v42M283.3 2297.4l31.6 31.6M283.3 2329l31.6 -31.6M291.3 2312.7h42M312.3 2291.7v42M296.5 2296.9l31.6 31.6M296.5 2328.5l31.6 -31.6M308.3 2312.6h42M329.3 2291.6v42M313.5 2296.8l31.6 31.6M313.5 2328.4l31.6 -31.6M329.1 2312.6h42M350.1 2291.6v42M334.3 2296.8l31.6 31.6M334.3 2328.4l31.6 -31.6M353.6 2327.3h42M374.6 2306.3v42M358.8 2311.5l31.6 31.6M358.8 2343.1l31.6 -31.6M381.6 2343.5h42M402.6 2322.5v42M386.8 2327.7l31.6 31.6M386.8 2359.3l31.6 -31.6M413.1 2361.2h42M434.1 2340.2v42M418.3 2345.4l31.6 31.6M418.3 2377l31.6 -31.6M448 2380.4h42M469 2359.4v42M453.2 2364.6l31.6 31.6M453.2 2396.2l31.6 -31.6M486 2401.1h42M507 2380.1v42M491.2 2385.3l31.6 31.6M491.2 2416.9l31.6 -31.6M527.1 2423.3h42M548.1 2402.3v42M532.3 2407.5l31.6 31.6M532.3 2439.1l31.6 -31.6M571.1 2446.9h42M592.1 2425.9v42M576.3 2431.1l31.6 31.6M576.3 2462.7l31.6 -31.6M617.8 2471.9h42M638.8 2450.9v42M623 2456.1l31.6 31.6M623 2487.7l31.6 -31.6M667 2498.4h42M688 2477.4v42M672.2 2482.6l31.6 31.6M672.2 2514.2l31.6 -31.6M718.5 2526.2h42M739.5 2505.2v42M723.7 2510.4l31.6 31.6M723.7 2542l31.6 -31.6M772.2 2555.4h42M793.2 2534.4v42M777.4 2539.6l31.6 31.6M777.4 2571.2l31.6 -31.6M827.8 2585.9h42M848.8 2564.9v42M833 2570.1l31.6 31.6M833 2601.7l31.6 -31.6M885 2617.5h42M906 2596.5v42M890.2 2601.7l31.6 31.6M890.2 2633.3l31.6 -31.6M943.8 2650.2h42M964.8 2629.2v42M949 2634.4l31.6 31.6M949 2666l31.6 -31.6M1003.7 2683.7h42M1024.7 2662.7v42M1008.9 2667.9l31.6 31.6M1008.9 2699.5l31.6 -31.6M1064.6 2718h42M1085.6 2697v42M1069.8 2702.2l31.6 31.6M1069.8 2733.8l31.6 -31.6M1126.3 2753h42M1147.3 2732v42M1131.5 2737.2l31.6 31.6M1131.5 2768.8l31.6 -31.6M1188.5 2788.5h42M1209.5 2767.5v42M1193.7 2772.7l31.6 31.6M1193.7 2804.3l31.6 -31.6M1250.9 2824.4h42M1271.9 2803.4v42M1256.1 2808.6l31.6 31.6M1256.1 2840.2l31.6 -31.6M1313.3 2860.6h42M1334.3 2839.6v42M1318.5 2844.8l31.6 31.6M1318.5 2876.4l31.6 -31.6" fill="none" stroke="#0072BD" stroke-width="5.7"/>
<rect x="1829.1" y="2243.4" width="374.3000000000002" height="85.09999999999991" fill="#fff" stroke="#262626" stroke-width="4.0"/>
<path d="M1847.1 2286.95H1985.6" stroke="#0072BD" stroke-width="4"/>
<path d="M1897.5 2286.1h42M1918.5 2265.1v42M1902.7 2270.3l31.6 31.6M1902.7 2301.9l31.6 -31.6" fill="none" stroke="#0072BD" stroke-width="5.7"/>
<g style="font-family:'Liberation Serif','Times New Roman',serif" fill="#000">
<text x="2001.1" y="2300.0499999999997" style="font-size:56px">Λ</text>
<text x="2039.1" y="2308.35" style="font-size:41px;font-style:italic">s</text>
<text transform="translate(2094.7999999999997 2302.5499999999997) scale(1.4 1)" text-anchor="middle" style="font-size:55px">=</text>
<text x="2131.6" y="2300.0499999999997" style="font-size:53px" letter-spacing="-1">10</text>
</g>
<text x="1329.5" y="4058" text-anchor="middle" style="font-family:'Liberation Serif','Times New Roman',serif;font-size:86px" fill="#000">(<tspan style="font-weight:bold">c</tspan>)</text>
</svg></body></html>
